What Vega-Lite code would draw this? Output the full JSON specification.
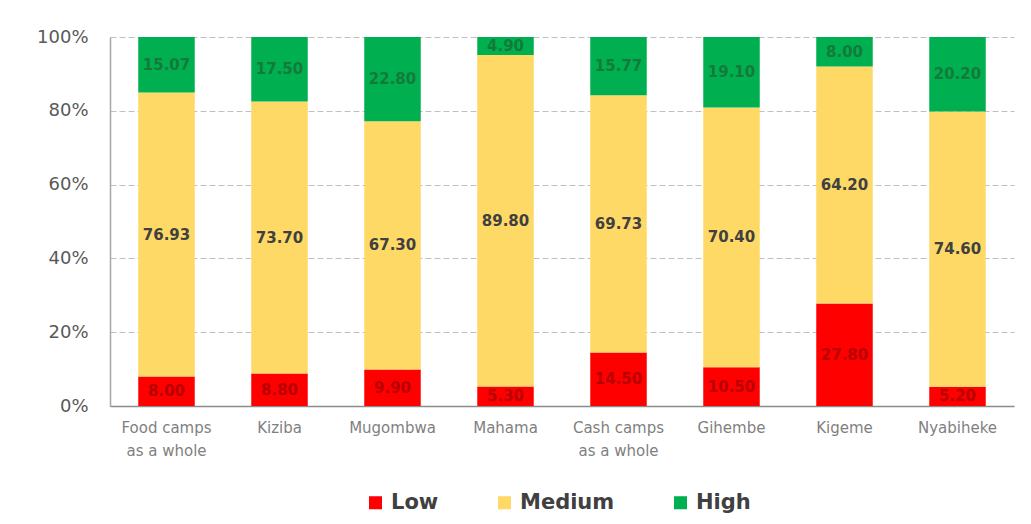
{
  "$schema": "https://vega.github.io/schema/vega-lite/v6.json",
  "autosize": {"type": "none"},
  "width": 904,
  "height": 369,
  "padding": {"left": 110, "top": 37, "right": 17, "bottom": 118},
  "background": "white",
  "config": {
    "view": {"stroke": null},
    "font": "DejaVu Sans"
  },
  "data": {
    "values": [
      {"camp": "Food camps as a whole", "level": "Low", "k": 1, "value": 8.00},
      {"camp": "Food camps as a whole", "level": "Medium", "k": 2, "value": 76.93},
      {"camp": "Food camps as a whole", "level": "High", "k": 3, "value": 15.07},
      {"camp": "Kiziba", "level": "Low", "k": 1, "value": 8.80},
      {"camp": "Kiziba", "level": "Medium", "k": 2, "value": 73.70},
      {"camp": "Kiziba", "level": "High", "k": 3, "value": 17.50},
      {"camp": "Mugombwa", "level": "Low", "k": 1, "value": 9.90},
      {"camp": "Mugombwa", "level": "Medium", "k": 2, "value": 67.30},
      {"camp": "Mugombwa", "level": "High", "k": 3, "value": 22.80},
      {"camp": "Mahama", "level": "Low", "k": 1, "value": 5.30},
      {"camp": "Mahama", "level": "Medium", "k": 2, "value": 89.80},
      {"camp": "Mahama", "level": "High", "k": 3, "value": 4.90},
      {"camp": "Cash camps as a whole", "level": "Low", "k": 1, "value": 14.50},
      {"camp": "Cash camps as a whole", "level": "Medium", "k": 2, "value": 69.73},
      {"camp": "Cash camps as a whole", "level": "High", "k": 3, "value": 15.77},
      {"camp": "Gihembe", "level": "Low", "k": 1, "value": 10.50},
      {"camp": "Gihembe", "level": "Medium", "k": 2, "value": 70.40},
      {"camp": "Gihembe", "level": "High", "k": 3, "value": 19.10},
      {"camp": "Kigeme", "level": "Low", "k": 1, "value": 27.80},
      {"camp": "Kigeme", "level": "Medium", "k": 2, "value": 64.20},
      {"camp": "Kigeme", "level": "High", "k": 3, "value": 8.00},
      {"camp": "Nyabiheke", "level": "Low", "k": 1, "value": 5.20},
      {"camp": "Nyabiheke", "level": "Medium", "k": 2, "value": 74.60},
      {"camp": "Nyabiheke", "level": "High", "k": 3, "value": 20.20}
    ]
  },
  "transform": [
    {"stack": "value", "groupby": ["camp"], "sort": [{"field": "k", "order": "ascending"}], "as": ["v0", "v1"]}
  ],
  "encoding": {
    "x": {
      "field": "camp",
      "type": "nominal",
      "sort": ["Food camps as a whole", "Kiziba", "Mugombwa", "Mahama", "Cash camps as a whole", "Gihembe", "Kigeme", "Nyabiheke"],
      "scale": {"paddingInner": 0.5, "paddingOuter": 0.25},
      "axis": {
        "title": null,
        "labelAngle": 0,
        "ticks": false,
        "domain": true,
        "domainColor": "#8c8c8c",
        "domainWidth": 1.5,
        "labelFontSize": 15,
        "labelColor": "#7f7f7f",
        "labelPadding": 14,
        "labelLineHeight": 23,
        "labelExpr": "indexof(datum.label, ' as a whole') > 0 ? [replace(datum.label, ' as a whole', ''), 'as a whole'] : datum.label"
      }
    }
  },
  "layer": [
    {
      "mark": {"type": "bar"},
      "encoding": {
        "y": {
          "field": "v0",
          "type": "quantitative",
          "scale": {"domain": [0, 100], "nice": false},
          "axis": {
            "title": null,
            "values": [0, 20, 40, 60, 80, 100],
            "ticks": false,
            "domain": true,
            "domainColor": "#a6a6a6",
            "domainWidth": 1.5,
            "grid": true,
            "gridColor": "#bfbfbf",
            "gridDash": [6, 3],
            "gridWidth": 1,
            "labelFontSize": 18,
            "labelColor": "#595959",
            "labelPadding": 22,
            "labelExpr": "datum.value + '%'"
          }
        },
        "y2": {"field": "v1"},
        "color": {
          "field": "level",
          "type": "nominal",
          "scale": {"domain": ["Low", "Medium", "High"], "range": ["#ff0000", "#ffd966", "#00b050"]},
          "legend": {
            "title": null,
            "orient": "none",
            "direction": "horizontal",
            "legendX": 255,
            "legendY": 455,
            "symbolType": "square",
            "symbolSize": 170,
            "symbolOpacity": 1,
            "symbolStrokeWidth": 0,
            "labelFontSize": 21,
            "labelFontWeight": "bold",
            "labelColor": "#404040",
            "labelOffset": 5,
            "columnPadding": 55
          }
        }
      }
    },
    {
      "transform": [
        {"fold": ["v0", "v1"], "as": ["edge", "pos"]},
        {"aggregate": [{"op": "mean", "field": "pos", "as": "mid"}], "groupby": ["camp", "level", "value"]}
      ],
      "mark": {"type": "text", "fontSize": 15, "fontWeight": "bold", "baseline": "middle", "align": "center"},
      "encoding": {
        "y": {"field": "mid", "type": "quantitative"},
        "text": {"field": "value", "type": "quantitative", "format": ".2f"},
        "color": {
          "field": "level",
          "type": "nominal",
          "scale": {"domain": ["Low", "Medium", "High"], "range": ["#b80000", "#404040", "#137a3a"]},
          "legend": null
        }
      }
    }
  ],
  "resolve": {"scale": {"color": "independent"}}
}
